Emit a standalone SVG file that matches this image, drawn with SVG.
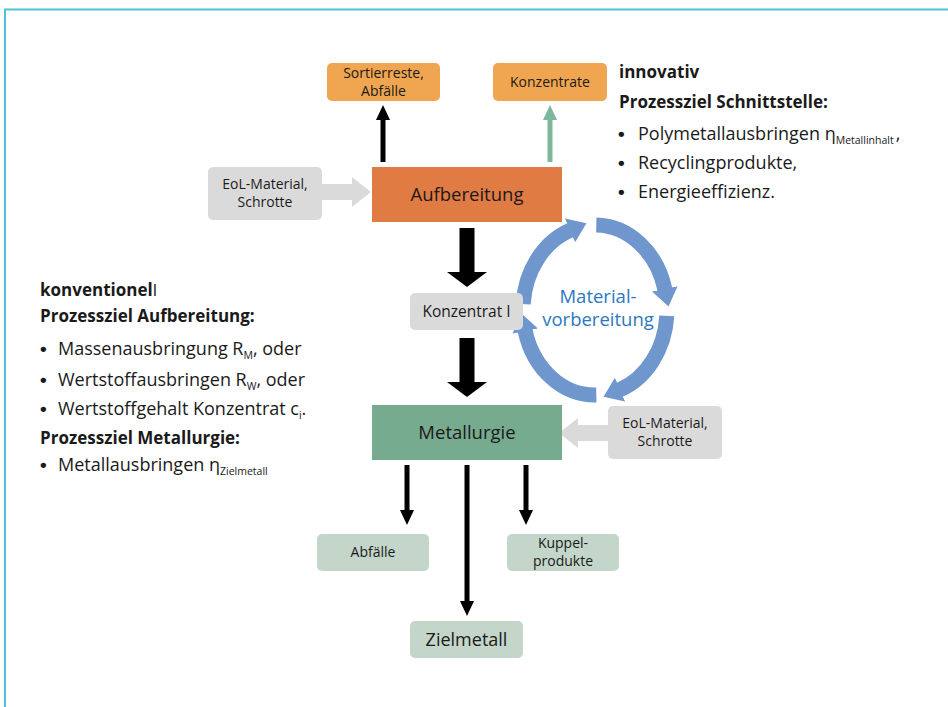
<svg xmlns="http://www.w3.org/2000/svg" width="948" height="707" viewBox="0 0 948 707">
  <style>
    text { font-family: "Open Sans", "Liberation Sans", sans-serif; fill: #1a1a1a; }
    .box { rx: 5; ry: 5; }
    .orange { fill: #f0a550; }
    .grey { fill: #dadada; }
    .pale { fill: #c3d6c9; }
    .lbl { font-size: 14px; text-anchor: middle; }
    .big { font-size: 18.5px; text-anchor: middle; }
    .hd { font-size: 17px; font-weight: bold; }
    .bl { font-size: 18px; }
    .dot { font-family: "Liberation Sans", sans-serif; font-size: 19px; font-weight: bold; }
    .sub { font-size: 10.5px; }
    .cyc { fill: none; stroke: #6f96cd; stroke-width: 15; marker-end: url(#cycHead); }
    .shaft-b { stroke: #000; stroke-width: 5; marker-end: url(#headS); }
    .shaft-g { stroke: #7db89c; stroke-width: 5; marker-end: url(#headG); }
    .shaft-big { stroke: #000; stroke-width: 15; marker-end: url(#headBig); }
    .shaft-grey { stroke: #dadada; stroke-width: 16; marker-end: url(#headGrey); }
  </style>
  <defs>
    <marker id="headS" markerUnits="userSpaceOnUse" viewBox="0 0 15 14" refX="0" refY="7" markerWidth="15" markerHeight="14" orient="auto">
      <path d="M0,0 L15,7 L0,14 z" fill="#000"/>
    </marker>
    <marker id="headG" markerUnits="userSpaceOnUse" viewBox="0 0 15 14" refX="0" refY="7" markerWidth="15" markerHeight="14" orient="auto">
      <path d="M0,0 L15,7 L0,14 z" fill="#7db89c"/>
    </marker>
    <marker id="headBig" markerUnits="userSpaceOnUse" viewBox="0 0 15 40" refX="0" refY="20" markerWidth="15" markerHeight="40" orient="auto">
      <path d="M0,0 L15,20 L0,40 z" fill="#000"/>
    </marker>
    <marker id="headGrey" markerUnits="userSpaceOnUse" viewBox="0 0 19 30" refX="0" refY="15" markerWidth="19" markerHeight="30" orient="auto">
      <path d="M0,0 L19,15 L0,30 z" fill="#dadada"/>
    </marker>
    <marker id="cycHead" markerUnits="userSpaceOnUse" viewBox="0 0 18 26" refX="0.5" refY="13" markerWidth="18" markerHeight="26" orient="auto">
      <path d="M0,0 L18,13 L0,26 z" fill="#6f96cd"/>
    </marker>
  </defs>

  <!-- frame -->
  <path d="M948,9.5 H5 V707" fill="none" stroke="#4ec3d5" stroke-width="2"/>

  <!-- circular preparation loop -->
  <g id="materialvorbereitung">
    <path class="cyc" d="M596.3,225 A72 85 0 0 1 664.9,289.4"/>
    <path class="cyc" d="M666.8,315.9 A72 85 0 0 1 619.6,389.9"/>
    <path class="cyc" d="M596.3,395 A72 85 0 0 1 525.1,330.6"/>
    <path class="cyc" d="M523.2,304.1 A72 85 0 0 1 570.4,230.1"/>
    <text x="598" y="303" font-size="18.5" text-anchor="middle" style="fill:#2a78bf">Material-</text>
    <text x="598" y="326" font-size="18.5" text-anchor="middle" style="fill:#2a78bf">vorbereitung</text>
  </g>

  <!-- connectors -->
  <g id="connectors">
    <line class="shaft-b" x1="383" y1="162" x2="383" y2="120"/>
    <line class="shaft-g" x1="550" y1="162" x2="550" y2="120"/>
    <line class="shaft-grey" x1="322" y1="192" x2="352" y2="192"/>
    <line class="shaft-big" x1="467" y1="228" x2="467" y2="272"/>
    <line class="shaft-big" x1="467" y1="338" x2="467" y2="382"/>
    <line class="shaft-grey" x1="608" y1="433" x2="578" y2="433"/>
    <line class="shaft-b" x1="407" y1="465" x2="407" y2="510"/>
    <line class="shaft-b" x1="467" y1="465" x2="467" y2="601"/>
    <line class="shaft-b" x1="526" y1="465" x2="526" y2="510"/>
  </g>

  <!-- nodes -->
  <g id="sortierreste">
    <rect class="box orange" x="327" y="63" width="113" height="38"/>
    <text class="lbl" x="383.5" y="78">Sortierreste,</text>
    <text class="lbl" x="383.5" y="96">Abfälle</text>
  </g>
  <g id="konzentrate">
    <rect class="box orange" x="493" y="63" width="114" height="38"/>
    <text class="lbl" x="550" y="87">Konzentrate</text>
  </g>
  <g id="eol-oben">
    <rect class="box grey" x="208" y="167" width="114" height="53"/>
    <text class="lbl" x="265" y="189">EoL-Material,</text>
    <text class="lbl" x="265" y="207">Schrotte</text>
  </g>
  <g id="aufbereitung">
    <rect x="372" y="167" width="190" height="55" fill="#e07b43"/>
    <text class="big" x="467" y="201">Aufbereitung</text>
  </g>
  <g id="konzentrat-1">
    <rect class="box grey" x="410" y="293" width="113" height="37"/>
    <text x="466.5" y="317" font-size="15.5" text-anchor="middle">Konzentrat I</text>
  </g>
  <g id="metallurgie">
    <rect x="372" y="405" width="190" height="55" fill="#77ab8f"/>
    <text class="big" x="467" y="439">Metallurgie</text>
  </g>
  <g id="eol-unten">
    <rect class="box grey" x="608" y="406" width="114" height="53"/>
    <text class="lbl" x="665" y="428">EoL-Material,</text>
    <text class="lbl" x="665" y="446">Schrotte</text>
  </g>
  <g id="abfaelle">
    <rect class="box pale" x="317" y="534" width="112" height="37"/>
    <text class="lbl" x="373" y="557">Abfälle</text>
  </g>
  <g id="kuppelprodukte">
    <rect class="box pale" x="507" y="534" width="112" height="37"/>
    <text class="lbl" x="563" y="548">Kuppel-</text>
    <text class="lbl" x="563" y="566">produkte</text>
  </g>
  <g id="zielmetall">
    <rect class="box pale" x="410" y="621" width="113" height="37"/>
    <text x="466.5" y="646" font-size="18" text-anchor="middle">Zielmetall</text>
  </g>

  <!-- process goals, innovative -->
  <g id="ziele-innovativ">
    <text class="hd" x="619" y="78">innovativ</text>
    <text class="hd" x="619" y="108">Prozessziel Schnittstelle:</text>
    <text class="dot" x="618" y="140">•</text>
    <text class="bl" x="638" y="140">Polymetallausbringen η<tspan class="sub" dy="4">Metallinhalt</tspan><tspan dy="-4" dx="2">,</tspan></text>
    <text class="dot" x="618" y="169">•</text>
    <text class="bl" x="638" y="169">Recyclingprodukte,</text>
    <text class="dot" x="618" y="198">•</text>
    <text class="bl" x="638" y="198">Energieeffizienz.</text>
  </g>

  <!-- process goals, conventional -->
  <g id="ziele-konventionell">
    <text class="hd" x="40" y="296">konventionel<tspan font-weight="normal">l</tspan></text>
    <text class="hd" x="40" y="322">Prozessziel Aufbereitung:</text>
    <text class="dot" x="40" y="355">•</text>
    <text class="bl" x="58" y="355">Massenausbringung R<tspan class="sub" dy="4">M</tspan><tspan dy="-4">, oder</tspan></text>
    <text class="dot" x="40" y="386">•</text>
    <text class="bl" x="58" y="386">Wertstoffausbringen R<tspan class="sub" dy="4">W</tspan><tspan dy="-4">, oder</tspan></text>
    <text class="dot" x="40" y="415">•</text>
    <text class="bl" x="58" y="415">Wertstoffgehalt Konzentrat c<tspan class="sub" dy="4">i</tspan><tspan dy="-4">.</tspan></text>
    <text class="hd" x="40" y="444">Prozessziel Metallurgie:</text>
    <text class="dot" x="40" y="471">•</text>
    <text class="bl" x="58" y="471">Metallausbringen η<tspan class="sub" dy="4">Zielmetall</tspan></text>
  </g>
</svg>
